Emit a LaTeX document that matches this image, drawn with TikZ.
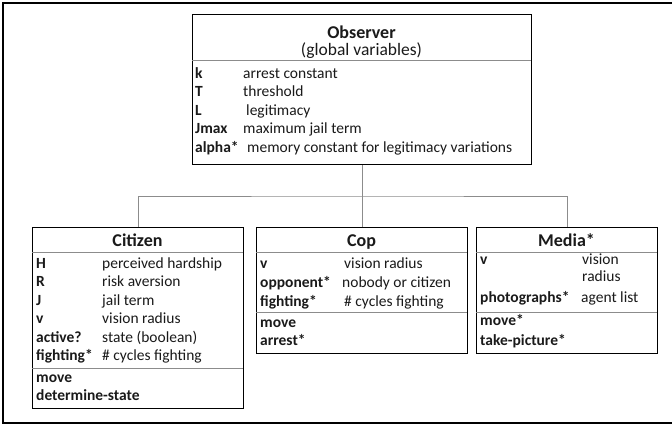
\documentclass[tikz,border=0pt]{standalone}
\usepackage{fontspec}
\setmainfont{Carlito}
\definecolor{ink}{HTML}{1A1A1A}
\definecolor{rule}{HTML}{8C8C8C}
\tikzset{
  box/.style={draw=black, line width=1.4pt, fill=white, inner sep=0pt, anchor=north west},
  seprule/.style={draw=rule, line width=0.9pt},
  conn/.style={draw=rule, line width=0.9pt},
  lbl/.style={anchor=base west, inner sep=0pt, text=ink, font=\fontsize{15.5}{18}\selectfont},
  nm/.style={anchor=base west, inner sep=0pt, text=ink, font=\bfseries\fontsize{15.5}{18}\selectfont},
  ttl/.style={anchor=base, inner sep=0pt, text=ink, font=\bfseries\fontsize{18}{20}\selectfont},
  subttl/.style={anchor=base, inner sep=0pt, text=ink, font=\fontsize{17.5}{20}\selectfont},
}
\begin{document}
\begin{tikzpicture}[x=1pt,y=-1pt]
\useasboundingbox (0,0) rectangle (672,428);
% outer frame (right edge lies outside the picture)
\draw[black, line width=2pt] (672,3) -- (3,3) -- (3,423) -- (672,423);

% boxes
\node[box, minimum width=339pt, minimum height=150pt] (obs) at (192,14) {};
\node[box, minimum width=211pt, minimum height=181pt] (cit) at (32,227) {};
\node[box, minimum width=211pt, minimum height=126pt] (cop) at (256,227) {};
\node[box, minimum width=181pt, minimum height=126pt] (med) at (476,227) {};

% connectors
\coordinate (jn) at (obs.south |- 0,196);
\draw[conn] (obs.south) -- (jn);
\draw[conn] (cit.north) |- (jn) -| (med.north);
\draw[conn] (cop.north) -- (cop.north |- jn);

% separators
\draw[seprule] (192,60) -- (531,60);
\draw[seprule] (32,252) -- (243,252);
\draw[seprule] (32,368) -- (243,368);
\draw[seprule] (256,252) -- (467,252);
\draw[seprule] (256,312) -- (467,312);
\draw[seprule] (476,252) -- (657,252);
\draw[seprule] (476,312) -- (657,312);

% Observer
\node[ttl] (obsT) at (361.5,39) {Observer};
\node[subttl] (obsS) at (361.5,56) {(global variables)};
\node[nm] (o1) at (195,78) {k};
\node[lbl] (o1d) at (243,78) {arrest constant};
\node[nm] (o2) at (195,96.5) {T};
\node[lbl] (o2d) at (243,96.5) {threshold};
\node[nm] (o3) at (195,115) {L};
\node[lbl] (o3d) at (246,115) {legitimacy};
\node[nm] (o4) at (195,133.5) {Jmax};
\node[lbl] (o4d) at (243,133.5) {maximum jail term};
\node[nm] (o5) at (195,152) {alpha*};
\node[lbl] (o5d) at (247,152) {memory constant for legitimacy variations};

% Citizen
\node[ttl] (citT) at (137.5,246) {Citizen};
\node[nm] (c1) at (36,268) {H};
\node[lbl] (c1d) at (102,268) {perceived hardship};
\node[nm] (c2) at (36,286.5) {R};
\node[lbl] (c2d) at (102,286.5) {risk aversion};
\node[nm] (c3) at (36,305) {J};
\node[lbl] (c3d) at (102,305) {jail term};
\node[nm] (c4) at (36,323.5) {v};
\node[lbl] (c4d) at (102,323.5) {vision radius};
\node[nm] (c5) at (36,342) {active?};
\node[lbl] (c5d) at (102,342) {state (boolean)};
\node[nm] (c6) at (36,360.5) {fighting*};
\node[lbl] (c6d) at (102,360.5) {\# cycles fighting};
\node[nm] (c7) at (36,382) {move};
\node[nm] (c8) at (36,400.5) {determine-state};

% Cop
\node[ttl] (copT) at (361.5,246) {Cop};
\node[nm] (p1) at (260,268) {v};
\node[lbl] (p1d) at (344,268) {vision radius};
\node[nm] (p2) at (260,287) {opponent*};
\node[lbl] (p2d) at (342,287) {nobody or citizen};
\node[nm] (p3) at (260,306) {fighting*};
\node[lbl] (p3d) at (344,306) {\# cycles fighting};
\node[nm] (p4) at (260,327) {move};
\node[nm] (p5) at (260,345) {arrest*};

% Media
\node[ttl] (medT) at (566.5,246) {Media*};
\node[nm] (m1) at (480,264) {v};
\node[lbl] (m1d) at (582,264) {vision};
\node[lbl] (m1e) at (582,281) {radius};
\node[nm] (m2) at (480,302) {photographs*};
\node[lbl] (m2d) at (581,302) {agent list};
\node[nm] (m3) at (480,325) {move*};
\node[nm] (m4) at (480,345) {take-picture*};
\end{tikzpicture}
\end{document}
